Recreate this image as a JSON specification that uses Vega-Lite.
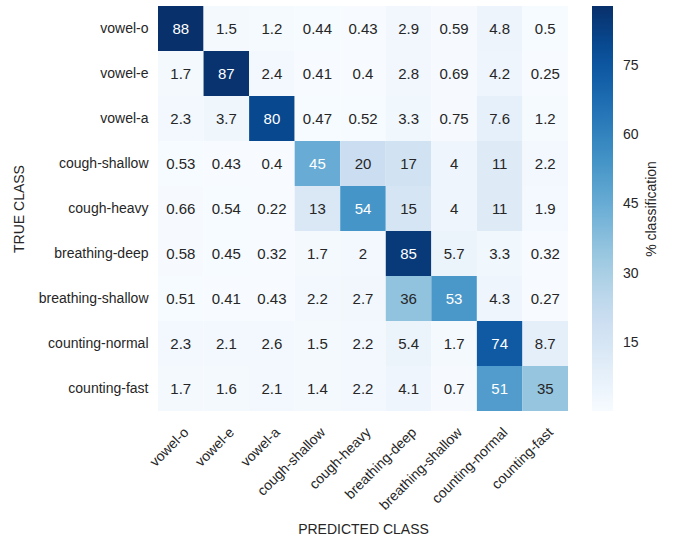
{
  "$schema": "https://vega.github.io/schema/vega-lite/v6.json",
  "width": 410,
  "height": 405,
  "autosize": "none",
  "padding": {"left": 158, "top": 6, "right": 108, "bottom": 126},
  "background": "white",
  "config": {
    "view": {"stroke": null},
    "font": "Liberation Sans"
  },
  "data": {
    "values": [
      {"t": "vowel-o", "p": "vowel-o", "v": 88}, {"t": "vowel-o", "p": "vowel-e", "v": 1.5}, {"t": "vowel-o", "p": "vowel-a", "v": 1.2}, {"t": "vowel-o", "p": "cough-shallow", "v": 0.44}, {"t": "vowel-o", "p": "cough-heavy", "v": 0.43}, {"t": "vowel-o", "p": "breathing-deep", "v": 2.9}, {"t": "vowel-o", "p": "breathing-shallow", "v": 0.59}, {"t": "vowel-o", "p": "counting-normal", "v": 4.8}, {"t": "vowel-o", "p": "counting-fast", "v": 0.5},
      {"t": "vowel-e", "p": "vowel-o", "v": 1.7}, {"t": "vowel-e", "p": "vowel-e", "v": 87}, {"t": "vowel-e", "p": "vowel-a", "v": 2.4}, {"t": "vowel-e", "p": "cough-shallow", "v": 0.41}, {"t": "vowel-e", "p": "cough-heavy", "v": 0.4}, {"t": "vowel-e", "p": "breathing-deep", "v": 2.8}, {"t": "vowel-e", "p": "breathing-shallow", "v": 0.69}, {"t": "vowel-e", "p": "counting-normal", "v": 4.2}, {"t": "vowel-e", "p": "counting-fast", "v": 0.25},
      {"t": "vowel-a", "p": "vowel-o", "v": 2.3}, {"t": "vowel-a", "p": "vowel-e", "v": 3.7}, {"t": "vowel-a", "p": "vowel-a", "v": 80}, {"t": "vowel-a", "p": "cough-shallow", "v": 0.47}, {"t": "vowel-a", "p": "cough-heavy", "v": 0.52}, {"t": "vowel-a", "p": "breathing-deep", "v": 3.3}, {"t": "vowel-a", "p": "breathing-shallow", "v": 0.75}, {"t": "vowel-a", "p": "counting-normal", "v": 7.6}, {"t": "vowel-a", "p": "counting-fast", "v": 1.2},
      {"t": "cough-shallow", "p": "vowel-o", "v": 0.53}, {"t": "cough-shallow", "p": "vowel-e", "v": 0.43}, {"t": "cough-shallow", "p": "vowel-a", "v": 0.4}, {"t": "cough-shallow", "p": "cough-shallow", "v": 45}, {"t": "cough-shallow", "p": "cough-heavy", "v": 20}, {"t": "cough-shallow", "p": "breathing-deep", "v": 17}, {"t": "cough-shallow", "p": "breathing-shallow", "v": 4}, {"t": "cough-shallow", "p": "counting-normal", "v": 11}, {"t": "cough-shallow", "p": "counting-fast", "v": 2.2},
      {"t": "cough-heavy", "p": "vowel-o", "v": 0.66}, {"t": "cough-heavy", "p": "vowel-e", "v": 0.54}, {"t": "cough-heavy", "p": "vowel-a", "v": 0.22}, {"t": "cough-heavy", "p": "cough-shallow", "v": 13}, {"t": "cough-heavy", "p": "cough-heavy", "v": 54}, {"t": "cough-heavy", "p": "breathing-deep", "v": 15}, {"t": "cough-heavy", "p": "breathing-shallow", "v": 4}, {"t": "cough-heavy", "p": "counting-normal", "v": 11}, {"t": "cough-heavy", "p": "counting-fast", "v": 1.9},
      {"t": "breathing-deep", "p": "vowel-o", "v": 0.58}, {"t": "breathing-deep", "p": "vowel-e", "v": 0.45}, {"t": "breathing-deep", "p": "vowel-a", "v": 0.32}, {"t": "breathing-deep", "p": "cough-shallow", "v": 1.7}, {"t": "breathing-deep", "p": "cough-heavy", "v": 2}, {"t": "breathing-deep", "p": "breathing-deep", "v": 85}, {"t": "breathing-deep", "p": "breathing-shallow", "v": 5.7}, {"t": "breathing-deep", "p": "counting-normal", "v": 3.3}, {"t": "breathing-deep", "p": "counting-fast", "v": 0.32},
      {"t": "breathing-shallow", "p": "vowel-o", "v": 0.51}, {"t": "breathing-shallow", "p": "vowel-e", "v": 0.41}, {"t": "breathing-shallow", "p": "vowel-a", "v": 0.43}, {"t": "breathing-shallow", "p": "cough-shallow", "v": 2.2}, {"t": "breathing-shallow", "p": "cough-heavy", "v": 2.7}, {"t": "breathing-shallow", "p": "breathing-deep", "v": 36}, {"t": "breathing-shallow", "p": "breathing-shallow", "v": 53}, {"t": "breathing-shallow", "p": "counting-normal", "v": 4.3}, {"t": "breathing-shallow", "p": "counting-fast", "v": 0.27},
      {"t": "counting-normal", "p": "vowel-o", "v": 2.3}, {"t": "counting-normal", "p": "vowel-e", "v": 2.1}, {"t": "counting-normal", "p": "vowel-a", "v": 2.6}, {"t": "counting-normal", "p": "cough-shallow", "v": 1.5}, {"t": "counting-normal", "p": "cough-heavy", "v": 2.2}, {"t": "counting-normal", "p": "breathing-deep", "v": 5.4}, {"t": "counting-normal", "p": "breathing-shallow", "v": 1.7}, {"t": "counting-normal", "p": "counting-normal", "v": 74}, {"t": "counting-normal", "p": "counting-fast", "v": 8.7},
      {"t": "counting-fast", "p": "vowel-o", "v": 1.7}, {"t": "counting-fast", "p": "vowel-e", "v": 1.6}, {"t": "counting-fast", "p": "vowel-a", "v": 2.1}, {"t": "counting-fast", "p": "cough-shallow", "v": 1.4}, {"t": "counting-fast", "p": "cough-heavy", "v": 2.2}, {"t": "counting-fast", "p": "breathing-deep", "v": 4.1}, {"t": "counting-fast", "p": "breathing-shallow", "v": 0.7}, {"t": "counting-fast", "p": "counting-normal", "v": 51}, {"t": "counting-fast", "p": "counting-fast", "v": 35}
    ]
  },
  "encoding": {
    "x": {
      "field": "p", "type": "nominal",
      "sort": ["vowel-o", "vowel-e", "vowel-a", "cough-shallow", "cough-heavy", "breathing-deep", "breathing-shallow", "counting-normal", "counting-fast"],
      "scale": {"paddingInner": 0, "paddingOuter": 0},
      "axis": {
        "title": "PREDICTED CLASS", "labelAngle": -45, "labelAlign": "right", "labelBaseline": "top",
        "ticks": false, "domain": false, "grid": false, "labelOverlap": false,
        "labelPadding": 14, "labelOffset": 1, "labelFontSize": 14, "labelColor": "#262626",
        "titleFontSize": 14, "titleFontWeight": "normal", "titleColor": "#262626", "titlePadding": 10
      }
    },
    "y": {
      "field": "t", "type": "nominal",
      "sort": ["vowel-o", "vowel-e", "vowel-a", "cough-shallow", "cough-heavy", "breathing-deep", "breathing-shallow", "counting-normal", "counting-fast"],
      "scale": {"paddingInner": 0, "paddingOuter": 0},
      "axis": {
        "title": "TRUE CLASS", "ticks": false, "domain": false, "grid": false,
        "labelPadding": 10, "labelFontSize": 14, "labelColor": "#262626",
        "titleFontSize": 14, "titleFontWeight": "normal", "titleColor": "#262626", "titlePadding": 12
      }
    }
  },
  "layer": [
    {
      "mark": {"type": "rect"},
      "encoding": {
        "color": {
          "field": "v", "type": "quantitative",
          "scale": {
            "type": "linear", "domain": [0.22, 88], "interpolate": "rgb",
            "range": ["#f7fbff", "#deebf7", "#c6dbef", "#9ecae1", "#6baed6", "#4292c6", "#2171b5", "#08519c", "#08306b"]
          },
          "legend": {
            "title": "% classification", "orient": "right", "direction": "vertical", "type": "gradient",
            "gradientLength": 405, "gradientThickness": 21, "gradientStrokeWidth": 0,
            "offset": 24, "padding": 0,
            "values": [15, 30, 45, 60, 75],
            "labelFontSize": 14, "labelOffset": 10, "labelColor": "#262626",
            "titleOrient": "right", "titleAnchor": "middle", "titleFontSize": 14, "titleFontWeight": "normal", "titleColor": "#262626", "titlePadding": 20,
            "encode": {"title": {"update": {"angle": {"value": -90}}}}
          }
        }
      }
    },
    {
      "mark": {"type": "text", "fontSize": 15},
      "encoding": {
        "text": {"field": "v", "type": "nominal"},
        "color": {"condition": {"test": "datum.v > 40", "value": "white"}, "value": "#262626"}
      }
    }
  ]
}
